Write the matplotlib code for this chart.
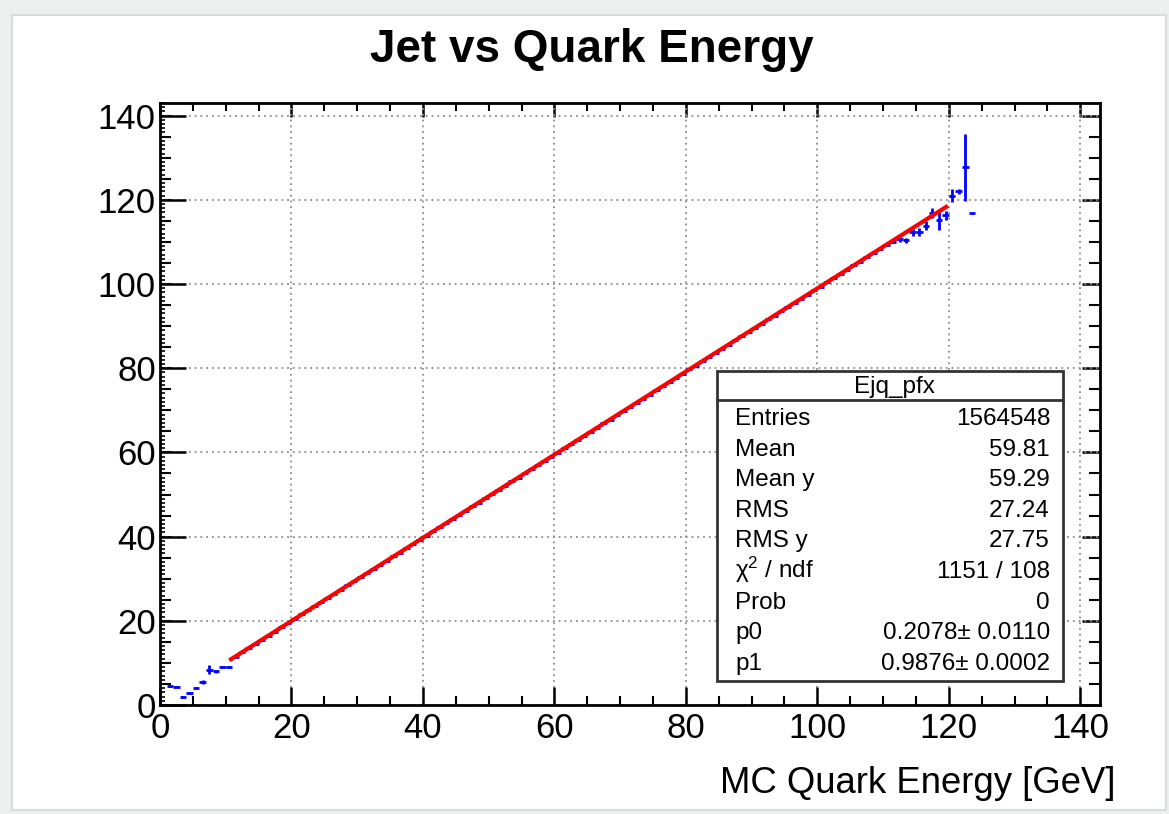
import numpy as np
import matplotlib
matplotlib.use("Agg")
import matplotlib.pyplot as plt
from matplotlib.patches import Rectangle
from matplotlib.ticker import MultipleLocator

plt.rcParams['font.family'] = ['Liberation Sans', 'DejaVu Sans']
plt.rcParams['mathtext.fontset'] = 'custom'
plt.rcParams['mathtext.rm'] = 'Liberation Sans'
plt.rcParams['mathtext.it'] = 'Liberation Sans:italic'

#%% Profile data (Ejq_pfx): mean jet energy per 1 GeV quark-energy bin
bin_lo, bin_hi = 1, 124
jet_mean = [
    4.4, 4.3, 1.9, 2.8, 4.0, 5.5, 8.4, 8.0, 9.0, 9.1,
    11.5, 12.5, 13.5, 14.6, 15.5, 16.5, 17.4, 18.5, 19.5, 20.5,
    21.5, 22.5, 23.4, 24.5, 25.4, 26.4, 27.4, 28.4, 29.4, 30.4,
    31.3, 32.4, 33.3, 34.3, 35.3, 36.2, 37.3, 38.2, 39.3, 40.2,
    41.3, 42.2, 43.2, 44.2, 45.2, 46.1, 47.2, 48.1, 49.2, 50.1,
    51.1, 52.0, 53.1, 54.0, 55.1, 56.0, 57.0, 58.0, 59.0, 59.9,
    61.0, 61.9, 62.9, 63.9, 64.9, 65.9, 66.9, 67.8, 68.9, 69.8,
    70.8, 71.8, 72.8, 73.7, 74.8, 75.7, 76.8, 77.7, 78.7, 79.7,
    80.6, 81.7, 82.6, 83.7, 84.6, 85.6, 86.6, 87.6, 88.5, 89.6,
    90.5, 91.6, 92.5, 93.5, 94.5, 95.5, 96.5, 97.4, 98.5, 99.4,
    100.4, 101.4, 102.4, 103.4, 104.4, 105.3, 106.4, 107.3, 108.3, 109.2,
    110.1, 110.6, 110.4, 112.3, 112.4, 113.9, 116.9, 115.1, 116.3, 121.0,
    122.0, 127.7, 116.8,
]
jet_err = [
    0.1, 0.1, 0.2, 0.2, 0.2, 0.5, 1.0, 0.3, 0.2, 0.2,
] + [0.1] * 101 + [
    0.5, 0.6, 0.8, 0.9, 1.0, 1.2, 2.2, 1.0, 1.6,
    0.5, 8.0, 0.0,
]

# straight-line fit pol1: p0 + p1*x
p0, p1 = 0.2078, 0.9876
fit_range = (10.8, 119.6)

stat_names = ["Entries", "Mean", "Mean y", "RMS", "RMS y",
              "\u03c7$^2$ / ndf", "Prob", "p0", "p1"]
stat_values = ["1564548", "59.81", "59.29", "27.24", "27.75",
               "1151 / 108", "0", "0.2078\u00b1 0.0110", "0.9876\u00b1 0.0002"]

W, H = 1169, 814
def fx(px): return px / W
def fy(py): return 1 - py / H

#%% Figure
fig = plt.figure(figsize=(W / 100, H / 100), dpi=100, facecolor='#eef0f0')
canvas = Rectangle((fx(12), fy(810)), fx(1166) - fx(12), fy(15) - fy(810),
                   transform=fig.transFigure, facecolor='white',
                   edgecolor='#d8dcdc', lw=1.5, zorder=-10)
fig.add_artist(canvas)

ax = fig.add_axes([fx(160), fy(705), fx(1100) - fx(160), fy(103) - fy(705)])
ax.set_zorder(1)
ax.set_xlim(0, 143)
ax.set_ylim(0, 143)

x = np.arange(bin_lo, bin_hi) + 0.5
ax.errorbar(x, jet_mean, xerr=0.5, yerr=jet_err, fmt='none', ecolor='blue',
            elinewidth=2.0, capsize=0, zorder=3)

xf = np.linspace(fit_range[0], fit_range[1], 200)
ax.plot(xf, p0 + p1 * xf, color='red', lw=3.0, zorder=4)

# axes frame and ticks
for s in ax.spines.values():
    s.set_linewidth(2.0)
ax.xaxis.set_major_locator(MultipleLocator(20))
ax.xaxis.set_minor_locator(MultipleLocator(5))
ax.yaxis.set_major_locator(MultipleLocator(20))
ax.yaxis.set_minor_locator(MultipleLocator(1))
ax.tick_params(axis='x', which='major', direction='in', length=13, width=1.8,
               labelsize=25, pad=5)
ax.tick_params(axis='x', which='minor', direction='in', length=6.5, width=1.5)
ax.tick_params(axis='y', which='major', direction='in', length=19, width=1.8,
               labelsize=25, pad=3)
ax.tick_params(axis='y', which='minor', direction='in', length=3.5, width=1.2)
ax.grid(which='major', ls=(0, (1, 2.2)), color='#8c8c8c', lw=1.3)

# medium ticks every 5 on the left
sec_l = ax.secondary_yaxis('left')
sec_l.yaxis.set_major_locator(MultipleLocator(5))
sec_l.tick_params(direction='in', length=8, width=1.5, labelleft=False)
sec_l.spines['left'].set_visible(False)

# mirrored ticks on top and right
sec_t = ax.secondary_xaxis('top')
sec_t.xaxis.set_major_locator(MultipleLocator(20))
sec_t.xaxis.set_minor_locator(MultipleLocator(5))
sec_t.tick_params(which='major', direction='in', length=10, width=1.8, labeltop=False)
sec_t.tick_params(which='minor', direction='in', length=6, width=1.5)
sec_r = ax.secondary_yaxis('right')
sec_r.yaxis.set_major_locator(MultipleLocator(20))
sec_r.yaxis.set_minor_locator(MultipleLocator(5))
sec_r.tick_params(which='major', direction='in', length=13, width=1.8, labelright=False)
sec_r.tick_params(which='minor', direction='in', length=8, width=1.5)

#%% Title and axis label
fig.text(fx(592), fy(62), "Jet vs Quark Energy", ha='center', va='baseline',
         fontsize=33, fontweight='bold')
fig.text(fx(1115), fy(793), "MC Quark Energy [GeV]", ha='right', va='baseline',
         fontsize=26.3)

#%% Stats box
ax.add_patch(Rectangle((fx(717), fy(681)), fx(1063) - fx(717), fy(371) - fy(681),
                       transform=fig.transFigure, facecolor='white',
                       edgecolor='#333333', lw=2.0, zorder=10, clip_on=False))
ax.plot([fx(717), fx(1063)], [fy(400), fy(400)], transform=fig.transFigure,
        color='#333333', lw=2.0, zorder=11, clip_on=False)
ax.text(fx(894), fy(393), "Ejq_pfx", transform=fig.transFigure, ha='center',
        va='baseline', fontsize=17.5, zorder=12)
for i, (name, val) in enumerate(zip(stat_names, stat_values)):
    yb = fy(425 + i * 30.6)
    ax.text(fx(735), yb, name, transform=fig.transFigure, ha='left',
            va='baseline', fontsize=17.5, zorder=12)
    ax.text(fx(1050), yb, val, transform=fig.transFigure, ha='right',
            va='baseline', fontsize=17.5, zorder=12)

fig.savefig("out.png", dpi=100, facecolor=fig.get_facecolor())
